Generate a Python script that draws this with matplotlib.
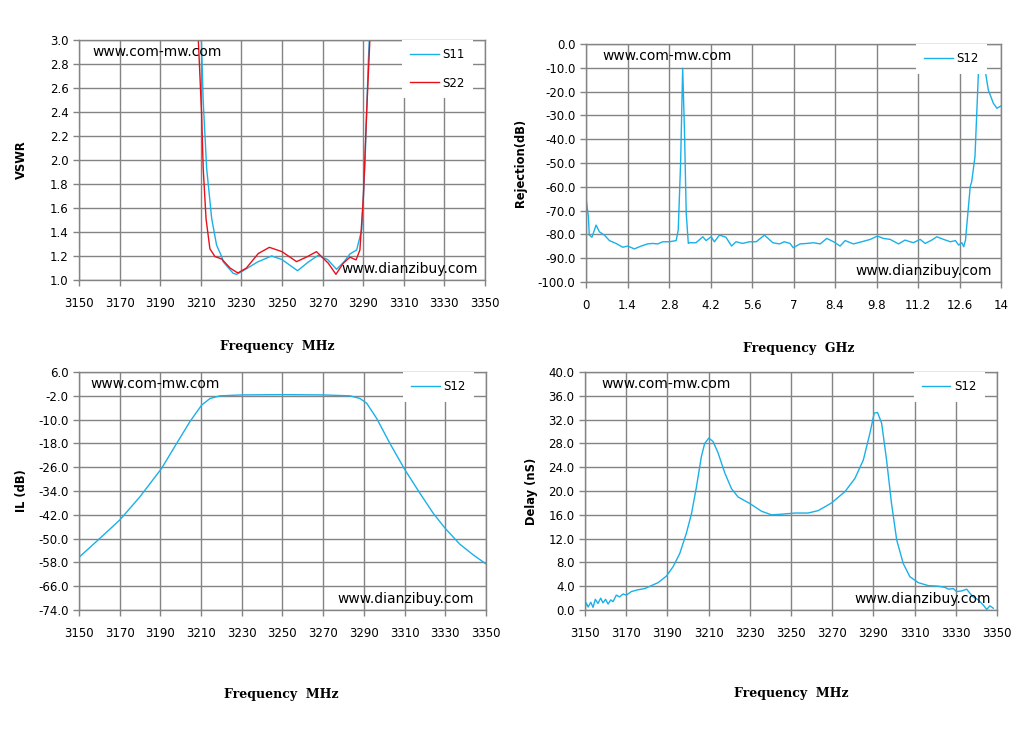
import matplotlib.pyplot as plt
from matplotlib.ticker import FixedLocator

# ---- VSWR (top left) ----
vswr_s11_f = [3209.2, 3210.3, 3211.2, 3212.9, 3215.4, 3217.8, 3220.3, 3221.1, 3226.0, 3227.7,
              3230.9, 3238.0, 3244.9, 3250.0, 3257.7, 3263.0, 3267.9, 3272.5, 3276.9, 3280.5,
              3283.5, 3286.8, 3289.3, 3290.9, 3292.5, 3293.0, 3294.3]
vswr_s11 = [3.6, 3.0, 2.49, 1.93, 1.51, 1.29, 1.195, 1.15, 1.055, 1.047,
            1.077, 1.15, 1.20, 1.17, 1.077, 1.15, 1.206, 1.17, 1.089, 1.15,
            1.217, 1.25, 1.42, 1.97, 2.8, 3.0, 3.6]
vswr_s22_f = [3207.5, 3208.8, 3210.4, 3211.2, 3212.6, 3214.5, 3217.0, 3220.3, 3224.4, 3227.7,
              3228.5, 3232.5, 3238.3, 3243.8, 3250.0, 3257.2, 3262.0, 3267.0, 3272.8, 3276.6,
              3280.2, 3283.5, 3286.5, 3288.4, 3290.1, 3291.7, 3293.3, 3294.5]
vswr_s22 = [3.6, 3.0, 2.39, 1.93, 1.51, 1.26, 1.195, 1.175, 1.10, 1.064,
            1.06, 1.10, 1.22, 1.272, 1.236, 1.153, 1.19, 1.236, 1.14, 1.047,
            1.14, 1.19, 1.167, 1.25, 1.69, 2.39, 3.0, 3.6]

# ---- Rejection (top right) ----
rej_f = [0.0, 0.08, 0.11, 0.2, 0.34, 0.45, 0.62, 0.79, 1.01, 1.24,
         1.41, 1.63, 1.86, 2.08, 2.25, 2.42, 2.59, 2.81, 3.04, 3.11,
         3.19, 3.26, 3.32, 3.38, 3.45, 3.49, 3.71, 3.94, 4.05, 4.22,
         4.33, 4.5, 4.72, 4.91, 5.06, 5.28, 5.51, 5.74, 6.02, 6.3,
         6.52, 6.69, 6.88, 6.99, 7.22, 7.45, 7.67, 7.9, 8.12, 8.35,
         8.57, 8.74, 9.02, 9.3, 9.59, 9.83, 10.03, 10.26, 10.54, 10.76,
         11.04, 11.27, 11.44, 11.66, 11.83, 12.06, 12.29, 12.46, 12.57, 12.68,
         12.74, 12.8, 12.88, 12.96, 13.01, 13.12, 13.18, 13.24, 13.32, 13.4,
         13.46, 13.57, 13.74, 13.86, 14.0]
rej_s12 = [-64.8, -72.5, -80.3, -81.2, -76.1, -78.9, -80.3, -82.6, -83.8, -85.4,
           -84.9, -86.1, -84.9, -84.0, -83.8, -84.0, -83.1, -83.1, -82.6, -78.2,
           -50.1, -10.2, -36.1, -71.1, -83.8, -83.5, -83.5, -81.0, -82.6, -81.0,
           -83.1, -80.3, -81.2, -84.9, -83.1, -83.8, -83.1, -83.1, -80.3, -83.5,
           -84.0, -83.1, -83.8, -85.6, -84.0, -83.8, -83.5, -84.0, -81.7, -83.1,
           -84.9, -82.6, -84.0, -83.1, -82.1, -80.7, -81.7, -82.1, -84.0, -82.4,
           -83.5, -82.1, -83.8, -82.4, -81.0, -82.1, -83.1, -82.6, -84.5, -83.5,
           -85.2, -82.4, -71.1, -59.9, -57.8, -47.3, -29.1, -10.9, -3.0, -4.0,
           -10.9, -19.3, -24.9, -27.0, -26.0]

# ---- Insertion loss (bottom left) ----
il_f = [3150.0, 3160.3, 3170.1, 3180.0, 3190.6, 3198.0, 3204.5, 3210.3, 3214.4, 3219.3,
        3230.0, 3250.0, 3270.0, 3283.2, 3288.1, 3291.4, 3296.3, 3302.8, 3310.2, 3317.6,
        3324.1, 3329.9, 3337.2, 3343.8, 3350.0]
il_s12 = [-56.3, -49.9, -43.7, -35.9, -26.4, -18.0, -10.7, -5.1, -2.9, -2.0,
          -1.7, -1.6, -1.7, -2.0, -2.9, -4.5, -9.6, -18.0, -26.9, -34.8,
          -41.5, -46.5, -51.9, -55.5, -58.5]

# ---- Group delay (bottom right) ----
dly_f = [3150.0, 3150.6, 3151.5, 3152.8, 3153.9, 3155.0, 3156.3, 3157.6, 3158.7, 3160.0,
         3161.2, 3162.5, 3163.6, 3165.2, 3166.8, 3168.5, 3170.1, 3172.5, 3175.7, 3179.0,
         3182.2, 3185.5, 3189.5, 3192.8, 3196.0, 3199.2, 3201.7, 3204.1, 3206.5, 3208.1,
         3210.1, 3212.2, 3214.6, 3217.9, 3221.1, 3224.3, 3230.0, 3235.7, 3240.5, 3245.4,
         3251.9, 3258.3, 3263.2, 3269.7, 3276.2, 3281.0, 3285.1, 3288.3, 3290.4, 3292.0,
         3294.0, 3296.4, 3298.8, 3301.3, 3304.5, 3307.7, 3311.8, 3316.6, 3321.5, 3324.7,
         3326.4, 3328.8, 3330.4, 3332.8, 3335.3, 3336.9, 3338.5, 3340.9, 3343.4, 3345.0,
         3346.6, 3348.2]
dly_s12 = [0.3, 1.2, 0.5, 1.3, 0.45, 1.8, 1.1, 2.0, 1.2, 1.8,
           1.0, 1.7, 1.4, 2.5, 2.2, 2.7, 2.5, 3.1, 3.4, 3.6,
           4.1, 4.6, 5.7, 7.3, 9.5, 12.9, 16.2, 20.7, 25.8, 28.0,
           28.9, 28.3, 26.4, 23.0, 20.4, 19.0, 17.9, 16.6, 16.0, 16.1,
           16.3, 16.3, 16.7, 18.0, 19.9, 22.1, 25.2, 29.7, 33.1, 33.2,
           31.4, 25.2, 17.9, 11.8, 7.8, 5.6, 4.6, 4.1, 4.0, 3.8,
           3.5, 3.6, 3.1, 3.2, 3.5, 2.8, 2.2, 1.7, 0.8, 0.1,
           0.7, 0.3]

mhz_ticks = list(range(3150, 3351, 20))
ghz_ticks = [0, 1.4, 2.8, 4.2, 5.6, 7, 8.4, 9.8, 11.2, 12.6, 14]
ghz_labels = ['0', '1.4', '2.8', '4.2', '5.6', '7', '8.4', '9.8', '11.2', '12.6', '14']

BLUE = '#1ab0e8'
RED = '#e8101a'
GRID = '#848484'

fig = plt.figure(figsize=(10.19, 7.46), dpi=100)


def style_axes(ax, xlabel, ylabel, ylab_x, xlab_y, xlab_x=0.5):
    ax.grid(True, color=GRID, linewidth=1.0)
    ax.set_axisbelow(True)
    for sp in ax.spines.values():
        sp.set_color(GRID)
        sp.set_linewidth(1.0)
    ax.tick_params(axis='both', colors=GRID, labelcolor='black', labelsize=8.5,
                   length=4, width=1.0, direction='out')
    ax.tick_params(axis='x', pad=8)
    ax.set_xlabel(xlabel, family='DejaVu Serif', fontweight='bold', fontsize=9)
    ax.set_ylabel(ylabel, fontweight='bold', fontsize=8.3)
    # label coord is the right edge of the rotated text
    ax.yaxis.set_label_coords(ylab_x, 0.5)
    ax.xaxis.set_label_coords(xlab_x, xlab_y)


def watermarks(ax, top_x, bot_x):
    ax.text(top_x, 0.95, 'www.com-mw.com', transform=ax.transAxes, fontsize=10,
            ha='left', va='center', zorder=6)
    ax.text(bot_x, 0.045, 'www.dianzibuy.com', transform=ax.transAxes, fontsize=10,
            ha='right', va='center', zorder=6)


def legend(ax, anchor_x, spacing=1.0):
    leg = ax.legend(loc='upper right', bbox_to_anchor=(anchor_x, 1.0), borderaxespad=0,
                    frameon=True, fancybox=False, framealpha=1, edgecolor='none',
                    fontsize=8.5, handlelength=2.4, handletextpad=0.3,
                    labelspacing=spacing, borderpad=0.7)
    leg.set_zorder(7)


# top left
ax1 = fig.add_axes([0.0775, 0.6247, 0.3984, 0.3217])
ax1.plot(vswr_s11_f, vswr_s11, color=BLUE, lw=1.0, label='S11')
ax1.plot(vswr_s22_f, vswr_s22, color=RED, lw=1.0, label='S22')
ax1.set_xlim(3150, 3350)
ax1.set_ylim(1.0, 3.0)
ax1.xaxis.set_major_locator(FixedLocator(mhz_ticks))
ax1.set_yticks([1.0 + 0.2 * i for i in range(11)])
ax1.set_yticklabels(['%.1f' % (1.0 + 0.2 * i) for i in range(11)])
style_axes(ax1, 'Frequency  MHz', 'VSWR', -0.126, -0.25, 0.488)
watermarks(ax1, 0.032, 0.983)
legend(ax1, 0.97, spacing=1.3)

# top right
ax2 = fig.add_axes([0.5751, 0.622, 0.4073, 0.319])
ax2.plot(rej_f, rej_s12, color=BLUE, lw=1.0, label='S12')
ax2.set_xlim(0, 14)
ax2.set_ylim(-100, 0)
ax2.set_xticks(ghz_ticks)
ax2.set_xticklabels(ghz_labels)
ax2.set_yticks(list(range(-100, 1, 10)))
ax2.set_yticklabels(['%.1f' % v for v in range(-100, 1, 10)])
style_axes(ax2, 'Frequency  GHz', 'Rejection(dB)', -0.142, -0.252, 0.513)
watermarks(ax2, 0.039, 0.978)
legend(ax2, 0.966)

# bottom left
ax3 = fig.add_axes([0.0775, 0.1823, 0.3994, 0.319])
ax3.plot(il_f, il_s12, color=BLUE, lw=1.0, label='S12')
ax3.set_xlim(3150, 3350)
ax3.set_ylim(-74, 6)
ax3.xaxis.set_major_locator(FixedLocator(mhz_ticks))
ax3.set_yticks(list(range(-74, 7, 8)))
ax3.set_yticklabels(['%.1f' % v for v in range(-74, 7, 8)])
style_axes(ax3, 'Frequency  MHz', 'IL (dB)', -0.125, -0.328, 0.496)
watermarks(ax3, 0.027, 0.97)
legend(ax3, 0.97)

# bottom right
ax4 = fig.add_axes([0.5741, 0.1823, 0.4043, 0.319])
ax4.plot(dly_f, dly_s12, color=BLUE, lw=1.0, label='S12')
ax4.set_xlim(3150, 3350)
ax4.set_ylim(0, 40)
ax4.xaxis.set_major_locator(FixedLocator(mhz_ticks))
ax4.set_yticks(list(range(0, 41, 4)))
ax4.set_yticklabels(['%.1f' % v for v in range(0, 41, 4)])
style_axes(ax4, 'Frequency  MHz', 'Delay (nS)', -0.114, -0.324, 0.5)
watermarks(ax4, 0.039, 0.985)
legend(ax4, 0.97)

fig.savefig('out.png', dpi=100)
